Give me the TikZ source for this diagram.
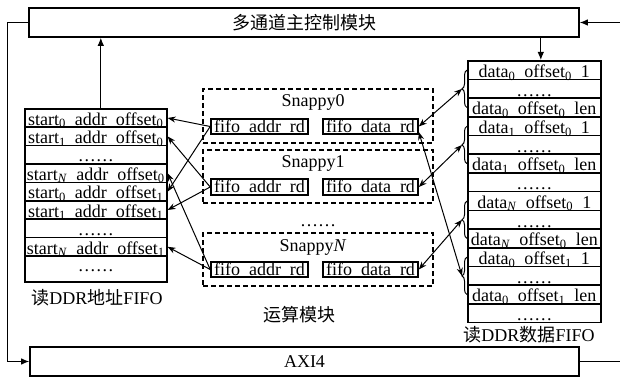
\documentclass[tikz,border=0pt]{standalone}
\usepackage{fontspec}
\setmainfont{Liberation Serif}
\newfontfamily\cjk{Noto Sans CJK SC}
\usetikzlibrary{arrows.meta,decorations.pathreplacing,calc}
\newcommand\sgap{\hspace{0.5em}}
\begin{document}
\begin{tikzpicture}[x=1pt,y=-1pt,
  font=\fontsize{18}{20}\selectfont,
  box/.style={draw, line width=1.6pt, inner sep=0pt},
  arow/.style={box, anchor=north west, minimum width=142pt, text height=16.4pt, text depth=2pt},
  drow/.style={box, anchor=north west, minimum width=133pt, text height=16.7pt, text depth=2pt},
  fbox/.style={box, minimum height=15.5pt, text height=13.5pt, text depth=2pt},
  sbox/.style={draw, dashed, line width=1.3pt, dash pattern=on 5pt off 3pt, minimum width=230pt, inner sep=0pt},
  bigbox/.style={draw, line width=1.6pt, inner sep=0pt, minimum height=29pt},
  arr/.style={-{Latex[length=8pt,width=6.5pt]}, line width=1pt},
  darr/.style={-{Stealth[length=8pt,width=6pt]}, line width=1pt},
  barr/.style={{Stealth[length=8pt,width=6pt]}-{Stealth[length=8pt,width=6pt]}, line width=1pt},
  brc/.style={decorate, decoration={brace, amplitude=5pt}, line width=1pt},
  txt/.style={inner sep=0pt}
]
\useasboundingbox (0,0) rectangle (620,379);

% control and AXI
\node[bigbox, minimum width=550pt] (ctrl) at (304,22.5) {\fontsize{18}{20}\cjk 多通道主控制模块};
\node[bigbox, minimum width=549pt] (axi) at (304.5,361.5) {AXI4};

% address FIFO
\node[arow] (r0) at (24,108)   {start\textsubscript{0}\sgap addr\sgap offset\textsubscript{0}};
\node[arow] (r1) at (24,126.4) {start\textsubscript{1}\sgap addr\sgap offset\textsubscript{0}};
\node[arow] (r2) at (24,144.8) {……};
\node[arow] (r3) at (24,163.2) {start\textsubscript{\textit{N}}\sgap addr\sgap offset\textsubscript{0}};
\node[arow] (r4) at (24,181.6) {start\textsubscript{0}\sgap addr\sgap offset\textsubscript{1}};
\node[arow] (r5) at (24,200)   {start\textsubscript{1}\sgap addr\sgap offset\textsubscript{1}};
\node[arow] (r6) at (24,218.4) {……};
\node[arow] (r7) at (24,236.8) {start\textsubscript{\textit{N}}\sgap addr\sgap offset\textsubscript{1}};
\node[arow, text height=15.8pt, text depth=10pt] (r8) at (24,255.2) {……};
\node[txt] (capA) at (97,298) {{\fontsize{18}{20}\cjk 读}DDR{\fontsize{18}{20}\cjk 地址}FIFO};

% data FIFO
\node[drow] (d0)  at (467,60)    {data\textsubscript{0}\sgap offset\textsubscript{0}\sgap 1};
\node[drow] (d1)  at (467,78.7)  {……};
\node[drow] (d2)  at (467,97.4)  {data\textsubscript{0}\sgap offset\textsubscript{0}\sgap len};
\node[drow] (d3)  at (467,116.1) {data\textsubscript{1}\sgap offset\textsubscript{0}\sgap 1};
\node[drow] (d4)  at (467,134.8) {……};
\node[drow] (d5)  at (467,153.5) {data\textsubscript{1}\sgap offset\textsubscript{0}\sgap len};
\node[drow] (d6)  at (467,172.2) {……};
\node[drow] (d7)  at (467,190.9) {data\textsubscript{\textit{N}}\sgap offset\textsubscript{0}\sgap 1};
\node[drow] (d8)  at (467,209.6) {……};
\node[drow] (d9)  at (467,228.3) {data\textsubscript{\textit{N}}\sgap offset\textsubscript{0}\sgap len};
\node[drow] (d10) at (467,247)   {data\textsubscript{0}\sgap offset\textsubscript{1}\sgap 1};
\node[drow] (d11) at (467,265.7) {……};
\node[drow] (d12) at (467,284.4) {data\textsubscript{0}\sgap offset\textsubscript{1}\sgap len};
\node[drow] (d13) at (467,303.1) {……};
\node[txt] (capD) at (529,335) {{\fontsize{18}{20}\cjk 读}DDR{\fontsize{18}{20}\cjk 数据}FIFO};

% braces
\draw[brc] (d2.west) -- (d0.west);
\draw[brc] (d5.west) -- (d3.west);
\draw[brc] (d9.west) -- (d7.west);
\draw[brc] (d12.west) -- (d10.west);
\coordinate (t0) at ($(d1.west)+(-5pt,0)$);
\coordinate (t1) at ($(d4.west)+(-5pt,0)$);
\coordinate (t2) at ($(d8.west)+(-5pt,0)$);
\coordinate (t3) at ($(d11.west)+(-5pt,0)$);

% Snappy modules
\node[sbox, minimum height=54pt] (s0) at (318,116) {};
\node[sbox, minimum height=53pt] (s1) at (318,176.5) {};
\node[sbox, minimum height=53pt] (sN) at (318,259.5) {};
\node[txt, anchor=base] (l0) at (313,107) {Snappy0};
\node[txt, anchor=base] (l1) at (313,168) {Snappy1};
\node[txt, anchor=base] (lN) at (313,251) {Snappy\textit{N}};
\node[txt, anchor=base] (mid) at (318,226) {……};
\node[txt] (capS) at (299,315) {\fontsize{18}{20}\cjk 运算模块};

\node[fbox, minimum width=97pt] (a0) at (259.5,126.5) {fifo\sgap addr\sgap rd};
\node[fbox, minimum width=95pt] (b0) at (370.5,126.5) {fifo\sgap data\sgap rd};
\node[fbox, minimum width=97pt] (a1) at (259.5,187) {fifo\sgap addr\sgap rd};
\node[fbox, minimum width=95pt] (b1) at (370.5,187) {fifo\sgap data\sgap rd};
\node[fbox, minimum width=97pt] (aN) at (259.5,269.5) {fifo\sgap addr\sgap rd};
\node[fbox, minimum width=95pt] (bN) at (370.5,269.5) {fifo\sgap data\sgap rd};

% address connectors
\draw[darr] (a0.west) -- (r0.east);
\draw[darr] (a0.west) -- (r4.east);
\draw[darr] (a1.west) -- (r1.east);
\draw[darr] (a1.west) -- (r5.east);
\draw[darr] (aN.west) -- (r3.east);
\draw[darr] (aN.west) -- (r7.east);

% data connectors
\draw[barr] (b0.east) -- (t0);
\draw[barr] (b1.east) -- (t1);
\draw[barr] (bN.east) -- (t2);
\draw[barr] ([yshift=3pt]b0.south east) -- (t3);

% control connectors
\draw[arr] ([xshift=5pt]r0.north) -- ([xshift=5pt]r0.north |- ctrl.south);
\draw[arr] ([xshift=6.5pt]d0.north |- ctrl.south) -- ([xshift=6.5pt]d0.north);
\draw[arr] (ctrl.west) -- ++(-21pt,0) |- (axi.west);
\coordinate (rin) at (620,22.5);
\coordinate (rout) at (620,361.5);
\draw[arr] (rin) -- (ctrl.east);
\draw[line width=1pt] (axi.east) -- (rout);
\end{tikzpicture}
\end{document}
